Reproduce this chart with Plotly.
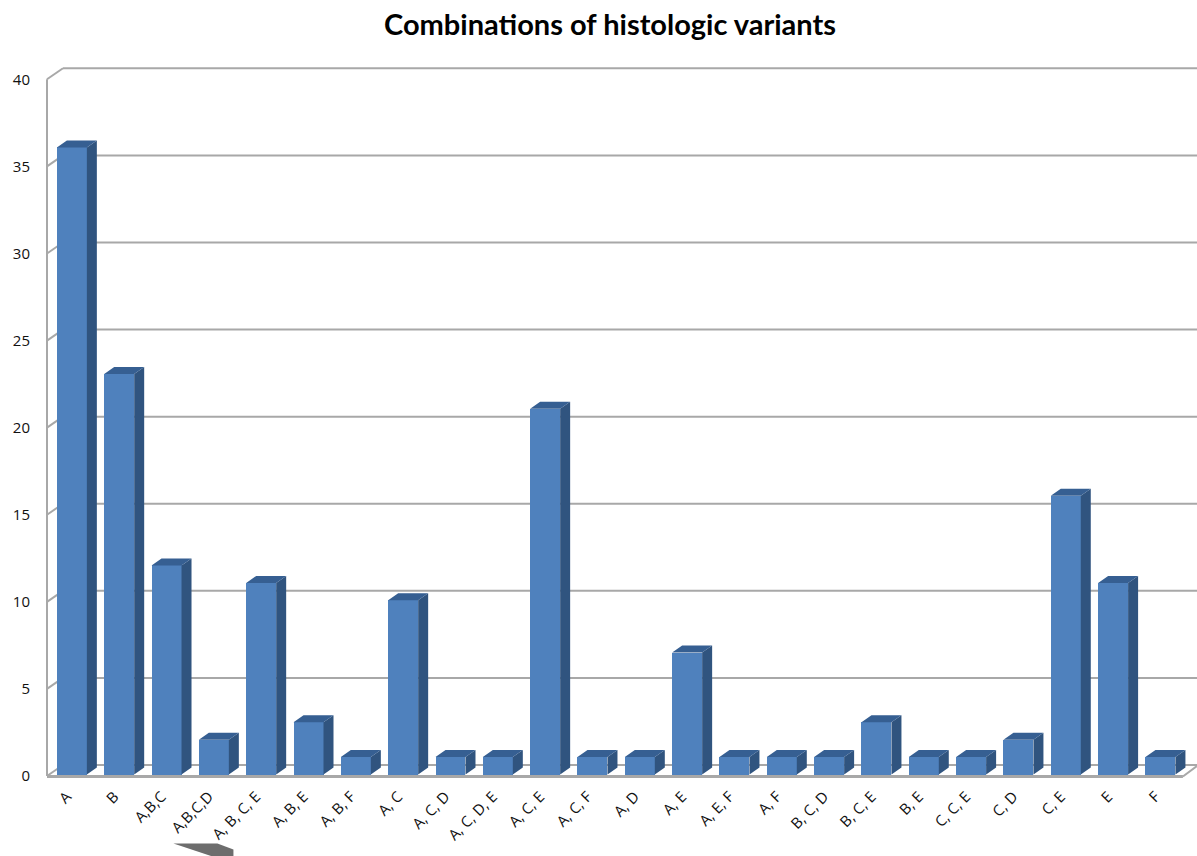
import plotly.graph_objects as go

categories = ["A", "B", "A,B,C", "A,B,C,D", "A, B, C, E", "A, B, E", "A, B, F", "A, C", "A, C, D",
              "A, C, D, E", "A, C, E", "A, C, F", "A, D", "A, E", "A, E, F", "A, F", "B, C, D",
              "B, C, E", "B, E", "C, C, E", "C, D", "C, E", "E", "F"]
values = [36, 23, 12, 2, 11, 3, 1, 10, 1, 1, 21, 1, 1, 7, 1, 1, 1, 3, 1, 1, 2, 16, 11, 1]
y_ticks = [0, 5, 10, 15, 20, 25, 30, 35, 40]

W, H = 1197, 856
AXIS_X, AXIS_Y = 46.5, 776.5    # pixel position of the value 0 / first slot edge
PAD = 3                         # room kept round the axes so the frame lines are not clipped
SLOT = 47.35
UNIT = 17.43
LEFT, BOTTOM = AXIS_X - PAD, AXIS_Y + PAD
TOP = 66
wall_dx, wall_dy = 16 / SLOT, 11 / UNIT
bar_dx, bar_dy = 10 / SLOT, 7 / UNIT
bar_w = 30 / SLOT
shift = 1.2 / SLOT
lift = 1.5 / UNIT
label_shift = 5.0 / SLOT
GRID = "#a8a8a8"

n = len(categories)
centers = [i + 0.5 + shift for i in range(n)]
label_pos = [c - label_shift for c in centers]
x_min, x_max = -PAD / SLOT, (W - AXIS_X) / SLOT
y_min, y_max = -PAD / UNIT, (AXIS_Y - TOP) / UNIT

side_x, side_y, top_x, top_y = [], [], [], []
for c, v in zip(centers, values):
    r = c + bar_w / 2
    l = c - bar_w / 2
    b, t = lift, v + lift
    side_x += [r, r + bar_dx, r + bar_dx, r, r, None]
    side_y += [b, b + bar_dy, t + bar_dy, t, b, None]
    top_x += [l, l + bar_dx, r + bar_dx, r, l, None]
    top_y += [t, t + bar_dy, t + bar_dy, t, t, None]

def seg(x0, y0, x1, y1, width=2):
    return dict(type="line", layer="below", x0=x0, y0=y0, x1=x1, y1=y1, line=dict(color=GRID, width=width))

shapes = []
for t in y_ticks:
    shapes.append(seg(0, t, wall_dx, t + wall_dy))
    shapes.append(seg(wall_dx, t + wall_dy, x_max, t + wall_dy))
shapes.append(seg(0, 0, 0, 40))
shapes.append(seg(0, -0.5 / UNIT, n, -0.5 / UNIT, 3))
shapes.append(seg(n, -0.5 / UNIT, n + 14 / SLOT, 10 / UNIT))

def px(x):
    return (x - LEFT) / (W - LEFT)

def py(y):
    return (BOTTOM - y) / (BOTTOM - TOP)

# grey fragment cut off by the bottom edge of the picture
frag = [(173, 844), (217, 844), (233, 850), (233, 857), (212, 857)]
shapes.append(dict(type="path", xref="paper", yref="paper", layer="above",
                   path="M " + " L ".join(f"{px(a):.5f} {py(b):.5f}" for a, b in frag) + " Z",
                   fillcolor="#6d6d6d", line=dict(width=0)))

fig = go.Figure()
fig.add_trace(go.Bar(x=centers, y=values, base=lift, width=bar_w, marker=dict(color="#4f81bd", line=dict(width=0)),
                     showlegend=False, customdata=categories, hovertemplate="%{customdata}: %{y}<extra></extra>"))
fig.add_trace(go.Scatter(x=side_x, y=side_y, mode="lines", fill="toself", fillcolor="#30547f",
                         line=dict(width=0, color="#30547f"), hoverinfo="skip", showlegend=False))
fig.add_trace(go.Scatter(x=top_x, y=top_y, mode="lines", fill="toself", fillcolor="#365f92",
                         line=dict(width=0, color="#365f92"), hoverinfo="skip", showlegend=False))

fig.update_layout(
    width=W, height=H, autosize=False,
    margin=dict(l=LEFT, r=0, t=TOP, b=H - BOTTOM, pad=0),
    paper_bgcolor="white", plot_bgcolor="white",
    font=dict(family="Open Sans", color="#111111"),
    title=dict(text="<b>Combinations of histologic variants</b>", x=610 / W, xanchor="center",
               y=1 - 25 / H, yanchor="middle", font=dict(family="Lato", size=29, color="black")),
    xaxis=dict(range=[x_min, x_max], tickmode="array", tickvals=label_pos, ticktext=categories, tickangle=-45,
               showgrid=False, zeroline=False, showline=False,
               ticks="", ticklabelstandoff=5, tickfont=dict(family="Open Sans", size=15, color="#111111")),
    yaxis=dict(range=[y_min, y_max], tickmode="array", tickvals=y_ticks, ticktext=[str(t) for t in y_ticks],
               showgrid=False, zeroline=False, showline=False,
               ticks="", ticklabelstandoff=13, tickfont=dict(family="Open Sans", size=15, color="#111111")),
    shapes=shapes,
    bargap=0,
)
fig.write_html("out.html", post_script="document.body.style.margin='0';", config={"displayModeBar": False})
